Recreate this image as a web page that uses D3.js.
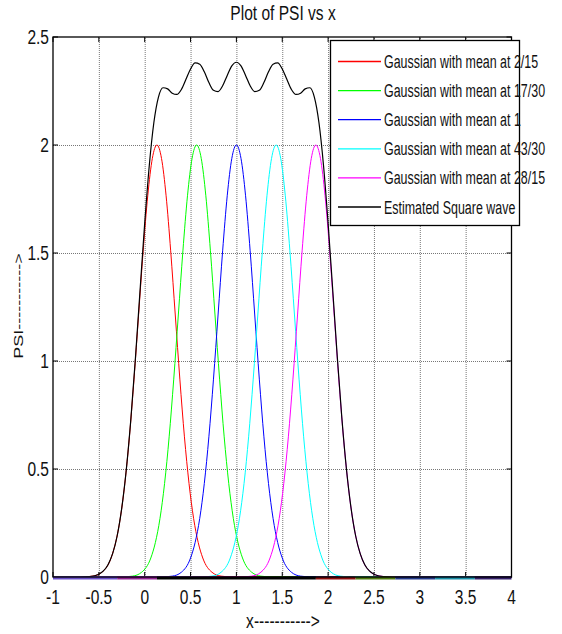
<!DOCTYPE html>
<html>
<head>
<meta charset="utf-8">
<script src="https://cdn.jsdelivr.net/npm/d3@7"></script>
<style>
  body { margin: 0; background: #fff; }
  text { font-family: "Liberation Sans Narrow", "Arial Narrow", "Liberation Sans", sans-serif; fill: #111; }
</style>
</head>
<body>
<div id="chart"></div>
<script>
// values
var legendLabels = ["Gaussian with mean at 2/15", "Gaussian with mean at 17/30", "Gaussian with mean at 1",
                    "Gaussian with mean at 43/30", "Gaussian with mean at 28/15", "Estimated Square wave"];
var gaussMeans = [2/15, 17/30, 1, 43/30, 28/15];
// one gaussian bump, offset from its mean -> PSI (all five bumps have the same shape)
var gaussOffsets = [-0.8, -0.7, -0.6, -0.5, -0.45, -0.4, -0.35, -0.3, -0.25, -0.2, -0.15, -0.1, -0.05, 0,
                    0.05, 0.1, 0.15, 0.2, 0.25, 0.3, 0.35, 0.4, 0.45, 0.5, 0.6, 0.7, 0.8];
var gaussProfile = [0.001, 0.004, 0.022, 0.088, 0.16, 0.271, 0.433, 0.649, 0.916, 1.213, 1.51, 1.765, 1.938, 2,
                    1.938, 1.765, 1.51, 1.213, 0.916, 0.649, 0.433, 0.271, 0.16, 0.088, 0.022, 0.004, 0.001];
// estimated square wave (black)
var squareX = [-1, -0.7, -0.6, -0.5, -0.45, -0.4, -0.35, -0.3, -0.25, -0.2, -0.15, -0.1, -0.05, 0, 0.05, 0.1,
               0.15, 0.2, 0.25, 0.3, 0.35, 0.4, 0.45, 0.5, 0.55, 0.6, 0.65, 0.7, 0.75, 0.8, 0.85, 0.9, 0.95, 1,
               1.05, 1.1, 1.15, 1.2, 1.25, 1.3, 1.35, 1.4, 1.45, 1.5, 1.55, 1.6, 1.65, 1.7, 1.75, 1.8, 1.85, 1.9,
               1.95, 2, 2.05, 2.1, 2.15, 2.2, 2.25, 2.3, 2.35, 2.4, 2.45, 2.5, 2.6, 2.7, 4];
var squareY = [0, 0, 0.002, 0.013, 0.028, 0.057, 0.108, 0.191, 0.32, 0.5, 0.736, 1.02, 1.331, 1.637, 1.905, 2.104,
               2.222, 2.265, 2.26, 2.24, 2.234, 2.257, 2.304, 2.352, 2.38, 2.374, 2.339, 2.289, 2.253, 2.247, 2.274, 2.322, 2.366, 2.383,
               2.366, 2.322, 2.274, 2.247, 2.253, 2.289, 2.339, 2.374, 2.38, 2.352, 2.304, 2.257, 2.234, 2.24, 2.26, 2.265, 2.222, 2.104,
               1.905, 1.637, 1.331, 1.02, 0.736, 0.5, 0.32, 0.191, 0.108, 0.057, 0.028, 0.013, 0.002, 0, 0];
var xTicks = [-1, -0.5, 0, 0.5, 1, 1.5, 2, 2.5, 3, 3.5, 4];
var yTicks = [0, 0.5, 1, 1.5, 2, 2.5];
// coloured band lying on the zero line
var bandEdges = [-1, -0.3, 2/15, 28/15, 2.3, 2.733, 3.167, 3.6, 4];
var bandColors = ["#6a50c8", "#8e2290", "#000000", "#8b1010", "#4d7a10", "#243a8a", "#1a8fa8", "#35206a"];

var lineColors = ["red", "#00ff00", "#0000ff", "#00ffff", "#ff00ff", "#000000"];

var width = 562, height = 634;
var svg = d3.select("#chart").append("svg")
    .attr("width", width)
    .attr("height", height);

var x = d3.scaleLinear().domain([-1, 4]).range([53, 511.5]);
var y = d3.scaleLinear().domain([0, 2.5]).range([577, 37]);
var SX = 0.74;

// horizontally squeezed text, like the reference
function label(txt, px, py, anchor, size, rot){
    var sc = rot ? " rotate(" + rot + ") scale(1," + SX + ")" : " scale(" + SX + ",1)";
    return svg.append("text")
        .attr("transform", "translate(" + px + "," + py + ")" + sc)
        .attr("text-anchor", anchor)
        .style("font-size", size + "px")
        .text(txt);
}

// grid
svg.append("g").selectAll("line").data(xTicks.slice(1, -1)).enter().append("line")
    .attr("x1", function(d){ return x(d) + 0.5; }).attr("x2", function(d){ return x(d) + 0.5; })
    .attr("y1", y(0)).attr("y2", y(2.5))
    .style("stroke", "#777").style("stroke-dasharray", "1,1");
svg.append("g").selectAll("line").data(yTicks.slice(1, -1)).enter().append("line")
    .attr("y1", function(d){ return y(d) + 0.5; }).attr("y2", function(d){ return y(d) + 0.5; })
    .attr("x1", x(-1)).attr("x2", x(4))
    .style("stroke", "#777").style("stroke-dasharray", "1,1");

// ticks on all four sides, pointing inward
var tk = svg.append("g").style("stroke", "#000");
xTicks.forEach(function(d){
    tk.append("line").attr("x1", x(d)).attr("x2", x(d)).attr("y1", y(0)).attr("y2", y(0) - 5);
    tk.append("line").attr("x1", x(d)).attr("x2", x(d)).attr("y1", y(2.5)).attr("y2", y(2.5) + 5);
});
yTicks.forEach(function(d){
    tk.append("line").attr("x1", x(-1)).attr("x2", x(-1) + 5).attr("y1", y(d)).attr("y2", y(d));
    tk.append("line").attr("x1", x(4)).attr("x2", x(4) - 5).attr("y1", y(d)).attr("y2", y(d));
});

var line = d3.line()
    .x(function(d){ return x(d[0]); })
    .y(function(d){ return y(d[1]); })
    .curve(d3.curveMonotoneX);

// gaussians
gaussMeans.forEach(function(m, k){
    var pts = [[-1, 0]];
    gaussOffsets.forEach(function(o, j){ pts.push([m + o, gaussProfile[j]]); });
    pts.push([4, 0]);
    svg.append("path").datum(pts)
        .attr("d", line)
        .style("fill", "none")
        .style("stroke", lineColors[k])
        .style("stroke-width", 1);
});

// square wave
svg.append("path").datum(squareX.map(function(v, k){ return [v, squareY[k]]; }))
    .attr("d", line)
    .style("fill", "none")
    .style("stroke", lineColors[5])
    .style("stroke-width", 1.2);

// band along zero
for(var b = 0; b < bandColors.length; b++){
    svg.append("line")
        .attr("x1", x(bandEdges[b])).attr("x2", x(bandEdges[b + 1]))
        .attr("y1", y(0) + 1).attr("y2", y(0) + 1)
        .style("stroke", bandColors[b]).style("stroke-width", 3);
}

// axes box
svg.append("rect")
    .attr("x", x(-1)).attr("y", y(2.5))
    .attr("width", x(4) - x(-1)).attr("height", y(0) - y(2.5))
    .style("fill", "none").style("stroke", "#000").style("stroke-width", 1.3);

// tick labels
xTicks.forEach(function(d){
    label(d, x(d), 604, "middle", 21);
});
yTicks.forEach(function(d){
    label(d, 49, y(d) + 7, "end", 21);
});

// titles
label("Plot of PSI vs x", 283, 20, "middle", 21);
label("x----------->", 283, 628, "middle", 21);
label("PSI----------->", 23, 306, "middle", 18, -90);

// legend
var legendRows = legendLabels.map(function(l, k){ return {label: l, color: lineColors[k]}; });
var lg = svg.append("g");
lg.append("rect")
    .attr("x", 330.5).attr("y", 40.5).attr("width", 189).attr("height", 185)
    .style("fill", "#fff").style("stroke", "#000").style("stroke-width", 1.3);
var rows = lg.selectAll("g.row").data(legendRows).enter().append("g")
    .attr("class", "row")
    .attr("transform", function(d, k){ return "translate(0," + (61 + 29.1 * k) + ")"; });
rows.append("line")
    .attr("x1", 338).attr("x2", 381).attr("y1", 0.5).attr("y2", 0.5)
    .attr("stroke", function(d){ return d.color; })
    .attr("stroke-width", 1.3);
rows.append("text")
    .attr("transform", "translate(384,7) scale(0.655,1)")
    .style("font-size", "19px")
    .text(function(d){ return d.label; });
</script>
</body>
</html>
